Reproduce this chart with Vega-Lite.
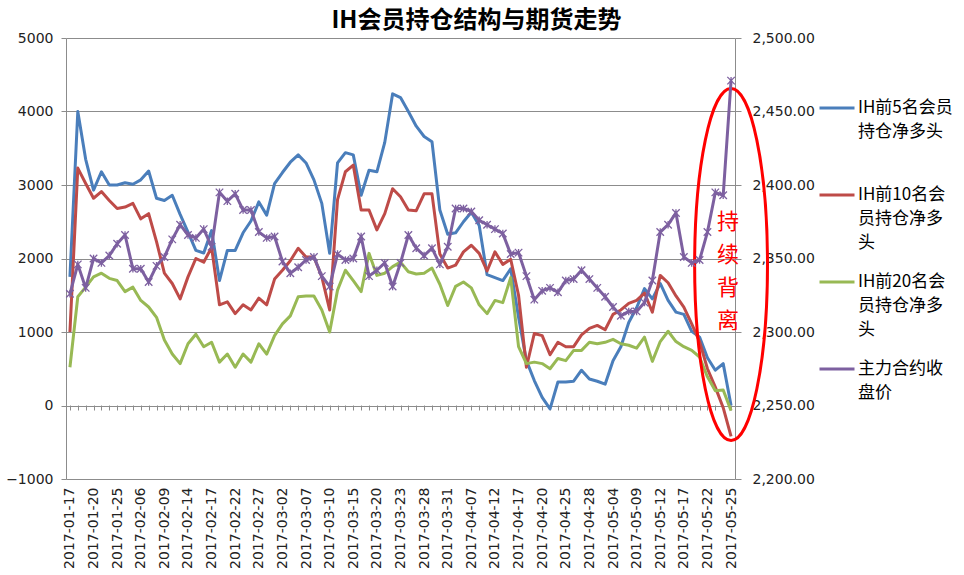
{
  "$schema": "https://vega.github.io/schema/vega-lite/v6.json",
  "width": 669,
  "height": 441,
  "autosize": {"type": "none"},
  "padding": {"left": 66, "top": 38, "right": 229, "bottom": 96},
  "background": "white",
  "title": {"text": "IH会员持仓结构与期货走势", "font": "Noto Sans CJK SC", "fontSize": 24, "fontWeight": "bold", "color": "#000", "anchor": "middle", "dx": 76, "offset": -2},
  "config": {"view": {"stroke": null}, "font": "DejaVu Sans"},
  "data": {"values": [
    {"date": "2017-01-17", "前5名": 1750, "前10名": 1000, "前20名": 520, "收盘价": 2326},
    {"date": "2017-01-18", "前5名": 4000, "前10名": 3230, "前20名": 1480, "收盘价": 2346},
    {"date": "2017-01-19", "前5名": 3350, "前10名": 3020, "前20名": 1610, "收盘价": 2330},
    {"date": "2017-01-20", "前5名": 2930, "前10名": 2820, "前20名": 1750, "收盘价": 2350},
    {"date": "2017-01-23", "前5名": 3180, "前10名": 2910, "前20名": 1800, "收盘价": 2347},
    {"date": "2017-01-24", "前5名": 3000, "前10名": 2790, "前20名": 1730, "收盘价": 2352},
    {"date": "2017-01-25", "前5名": 3000, "前10名": 2680, "前20名": 1700, "收盘价": 2360},
    {"date": "2017-01-26", "前5名": 3030, "前10名": 2700, "前20名": 1550, "收盘价": 2366},
    {"date": "2017-02-03", "前5名": 3010, "前10名": 2750, "前20名": 1610, "收盘价": 2343},
    {"date": "2017-02-06", "前5名": 3070, "前10名": 2540, "前20名": 1430, "收盘价": 2343},
    {"date": "2017-02-07", "前5名": 3190, "前10名": 2610, "前20名": 1340, "收盘价": 2334},
    {"date": "2017-02-08", "前5名": 2820, "前10名": 2230, "前20名": 1200, "收盘价": 2345},
    {"date": "2017-02-09", "前5名": 2790, "前10名": 1800, "前20名": 890, "收盘价": 2351},
    {"date": "2017-02-10", "前5名": 2860, "前10名": 1660, "前20名": 700, "收盘价": 2363},
    {"date": "2017-02-13", "前5名": 2600, "前10名": 1450, "前20名": 570, "收盘价": 2373},
    {"date": "2017-02-14", "前5名": 2360, "前10名": 1750, "前20名": 840, "收盘价": 2366},
    {"date": "2017-02-15", "前5名": 2110, "前10名": 2000, "前20名": 970, "收盘价": 2364},
    {"date": "2017-02-16", "前5名": 2075, "前10名": 1950, "前20名": 800, "收盘价": 2370},
    {"date": "2017-02-17", "前5名": 2380, "前10名": 2150, "前20名": 860, "收盘价": 2358},
    {"date": "2017-02-20", "前5名": 1700, "前10名": 1370, "前20名": 590, "收盘价": 2395},
    {"date": "2017-02-21", "前5名": 2110, "前10名": 1410, "前20名": 700, "收盘价": 2389},
    {"date": "2017-02-22", "前5名": 2110, "前10名": 1250, "前20名": 520, "收盘价": 2394},
    {"date": "2017-02-23", "前5名": 2350, "前10名": 1370, "前20名": 700, "收盘价": 2383},
    {"date": "2017-02-24", "前5名": 2510, "前10名": 1300, "前20名": 590, "收盘价": 2383},
    {"date": "2017-02-27", "前5名": 2770, "前10名": 1460, "前20名": 840, "收盘价": 2368},
    {"date": "2017-02-28", "前5名": 2590, "前10名": 1370, "前20名": 700, "收盘价": 2364},
    {"date": "2017-03-01", "前5名": 3020, "前10名": 1720, "前20名": 950, "收盘价": 2365},
    {"date": "2017-03-02", "前5名": 3170, "前10名": 1840, "前20名": 1110, "收盘价": 2348},
    {"date": "2017-03-03", "前5名": 3310, "前10名": 1970, "前20名": 1220, "收盘价": 2340},
    {"date": "2017-03-06", "前5名": 3410, "前10名": 2140, "前20名": 1480, "收盘价": 2344},
    {"date": "2017-03-07", "前5名": 3300, "前10名": 2020, "前20名": 1490, "收盘价": 2349},
    {"date": "2017-03-08", "前5名": 3070, "前10名": 2020, "前20名": 1490, "收盘价": 2351},
    {"date": "2017-03-09", "前5名": 2750, "前10名": 1750, "前20名": 1300, "收盘价": 2338},
    {"date": "2017-03-10", "前5名": 2070, "前10名": 1300, "前20名": 1000, "收盘价": 2331},
    {"date": "2017-03-13", "前5名": 3300, "前10名": 2800, "前20名": 1570, "收盘价": 2353},
    {"date": "2017-03-14", "前5名": 3440, "前10名": 3180, "前20名": 1840, "收盘价": 2349},
    {"date": "2017-03-15", "前5名": 3410, "前10名": 3270, "前20名": 1700, "收盘价": 2350},
    {"date": "2017-03-16", "前5名": 2860, "前10名": 2660, "前20名": 1550, "收盘价": 2365},
    {"date": "2017-03-17", "前5名": 3200, "前10名": 2660, "前20名": 2070, "收盘价": 2338},
    {"date": "2017-03-20", "前5名": 3180, "前10名": 2390, "前20名": 1770, "收盘价": 2342},
    {"date": "2017-03-21", "前5名": 3580, "前10名": 2610, "前20名": 1800, "收盘价": 2347},
    {"date": "2017-03-22", "前5名": 4240, "前10名": 2950, "前20名": 1890, "收盘价": 2331},
    {"date": "2017-03-23", "前5名": 4190, "前10名": 2840, "前20名": 1950, "收盘价": 2347},
    {"date": "2017-03-24", "前5名": 4000, "前10名": 2660, "前20名": 1820, "收盘价": 2366},
    {"date": "2017-03-27", "前5名": 3800, "前10名": 2650, "前20名": 1790, "收盘价": 2357},
    {"date": "2017-03-28", "前5名": 3660, "前10名": 2880, "前20名": 1800, "收盘价": 2352},
    {"date": "2017-03-29", "前5名": 3590, "前10名": 2880, "前20名": 1870, "收盘价": 2357},
    {"date": "2017-03-30", "前5名": 2660, "前10名": 2060, "前20名": 1650, "收盘价": 2346},
    {"date": "2017-03-31", "前5名": 2330, "前10名": 1870, "前20名": 1360, "收盘价": 2358},
    {"date": "2017-04-05", "前5名": 2350, "前10名": 1910, "前20名": 1620, "收盘价": 2384},
    {"date": "2017-04-06", "前5名": 2500, "前10名": 2090, "前20名": 1680, "收盘价": 2384},
    {"date": "2017-04-07", "前5名": 2630, "前10名": 2180, "前20名": 1600, "收盘价": 2382},
    {"date": "2017-04-10", "前5名": 2450, "前10名": 2070, "前20名": 1370, "收盘价": 2376},
    {"date": "2017-04-11", "前5名": 1780, "前10名": 1830, "前20名": 1250, "收盘价": 2373},
    {"date": "2017-04-12", "前5名": 1740, "前10名": 2090, "前20名": 1430, "收盘价": 2370},
    {"date": "2017-04-13", "前5名": 1700, "前10名": 1920, "前20名": 1400, "收盘价": 2367},
    {"date": "2017-04-14", "前5名": 1860, "前10名": 1990, "前20名": 1740, "收盘价": 2353},
    {"date": "2017-04-17", "前5名": 1200, "前10名": 1500, "前20名": 800, "收盘价": 2354},
    {"date": "2017-04-18", "前5名": 610, "前10名": 520, "前20名": 570, "收盘价": 2338},
    {"date": "2017-04-19", "前5名": 340, "前10名": 980, "前20名": 590, "收盘价": 2322},
    {"date": "2017-04-20", "前5名": 110, "前10名": 950, "前20名": 570, "收盘价": 2328},
    {"date": "2017-04-21", "前5名": -45, "前10名": 690, "前20名": 500, "收盘价": 2330},
    {"date": "2017-04-24", "前5名": 320, "前10名": 860, "前20名": 640, "收盘价": 2327},
    {"date": "2017-04-25", "前5名": 320, "前10名": 800, "前20名": 610, "收盘价": 2335},
    {"date": "2017-04-26", "前5名": 330, "前10名": 800, "前20名": 750, "收盘价": 2336},
    {"date": "2017-04-27", "前5名": 480, "前10名": 960, "前20名": 750, "收盘价": 2342},
    {"date": "2017-04-28", "前5名": 360, "前10名": 1050, "前20名": 860, "收盘价": 2336},
    {"date": "2017-05-02", "前5名": 330, "前10名": 1090, "前20名": 840, "收盘价": 2330},
    {"date": "2017-05-03", "前5名": 290, "前10名": 1030, "前20名": 860, "收盘价": 2324},
    {"date": "2017-05-04", "前5名": 610, "前10名": 1240, "前20名": 900, "收盘价": 2317},
    {"date": "2017-05-05", "前5名": 800, "前10名": 1300, "前20名": 840, "收盘价": 2311},
    {"date": "2017-05-08", "前5名": 1130, "前10名": 1390, "前20名": 820, "收盘价": 2314},
    {"date": "2017-05-09", "前5名": 1330, "前10名": 1430, "前20名": 780, "收盘价": 2314},
    {"date": "2017-05-10", "前5名": 1590, "前10名": 1530, "前20名": 930, "收盘价": 2320},
    {"date": "2017-05-11", "前5名": 1450, "前10名": 1270, "前20名": 600, "收盘价": 2335},
    {"date": "2017-05-12", "前5名": 1660, "前10名": 1770, "前20名": 870, "收盘价": 2368},
    {"date": "2017-05-15", "前5名": 1430, "前10名": 1670, "前20名": 1010, "收盘价": 2373},
    {"date": "2017-05-16", "前5名": 1270, "前10名": 1490, "前20名": 870, "收盘价": 2381},
    {"date": "2017-05-17", "前5名": 1240, "前10名": 1340, "前20名": 800, "收盘价": 2351},
    {"date": "2017-05-18", "前5名": 1010, "前10名": 1110, "前20名": 750, "收盘价": 2347},
    {"date": "2017-05-19", "前5名": 930, "前10名": 870, "前20名": 660, "收盘价": 2349},
    {"date": "2017-05-22", "前5名": 650, "前10名": 500, "前20名": 390, "收盘价": 2368},
    {"date": "2017-05-23", "前5名": 480, "前10名": 250, "前20名": 200, "收盘价": 2395},
    {"date": "2017-05-24", "前5名": 570, "前10名": -30, "前20名": 210, "收盘价": 2393},
    {"date": "2017-05-25", "前5名": 0, "前10名": -420, "前20名": -70, "收盘价": 2471}
  ]},
  "layer": [
    {
      "layer": [
        {
          "transform": [{"fold": ["前5名", "前10名", "前20名"], "as": ["series", "val"]}],
          "mark": {"type": "line", "strokeWidth": 3, "strokeJoin": "round"},
          "encoding": {
            "x": {"field": "date", "type": "ordinal", "sort": "ascending", "scale": {"type": "point", "padding": 0.5},
              "axis": {"orient": "bottom", "title": null, "values": ["2017-01-17","2017-01-20","2017-01-25","2017-02-06","2017-02-09","2017-02-14","2017-02-17","2017-02-22","2017-02-27","2017-03-02","2017-03-07","2017-03-10","2017-03-15","2017-03-20","2017-03-23","2017-03-28","2017-03-31","2017-04-07","2017-04-12","2017-04-17","2017-04-20","2017-04-25","2017-04-28","2017-05-04","2017-05-09","2017-05-12","2017-05-17","2017-05-22","2017-05-25"],
                "labelAngle": 270, "ticks": false, "domain": false, "grid": false, "labelPadding": 8, "labelFont": "DejaVu Sans", "labelFontSize": 14, "labelColor": "#222", "labelOverlap": false}},
            "y": {"field": "val", "type": "quantitative", "scale": {"domain": [-1000, 5000], "nice": false, "zero": false},
              "axis": {"orient": "left", "title": null, "values": [-1000, 0, 1000, 2000, 3000, 4000, 5000], "format": "d", "grid": true, "gridColor": "#8c8c8c", "gridWidth": 1, "domainColor": "#8c8c8c", "tickColor": "#8c8c8c", "tickSize": 5, "labelPadding": 8, "labelFont": "DejaVu Sans", "labelFontSize": 14, "labelColor": "#222"}},
            "color": {"field": "series", "type": "nominal",
              "scale": {"domain": ["前5名", "前10名", "前20名", "收盘价"], "range": ["#4a7ebb", "#be4b48", "#98b954", "#7d60a0"]},
              "legend": {"orient": "none", "legendX": 752, "legendY": 51, "title": null, "symbolType": "stroke", "symbolSize": 1225, "symbolStrokeWidth": 3, "labelFont": "Noto Sans CJK SC", "labelFontSize": 17, "labelColor": "#000", "labelOffset": 2, "labelLimit": 200, "rowPadding": 12, "gridAlign": "all", "labelBaseline": "middle",
                "labelExpr": "datum.label == '前5名' ? ['IH前5名会员', '持仓净多头'] : datum.label == '前10名' ? ['IH前10名会', '员持仓净多', '头'] : datum.label == '前20名' ? ['IH前20名会', '员持仓净多', '头'] : ['主力合约收', '盘价']",
                "encode": {"labels": {"update": {"lineHeight": {"value": 24}}}}}}
          }
        },
        {
          "data": {"values": [{"date": "2017-05-25", "val": 1918}]},
          "mark": {"type": "point", "shape": "M-0.207,0A0.207,1 0 1,0 0.207,0A0.207,1 0 1,0 -0.207,0Z", "filled": false, "size": 123904, "stroke": "#ff0000", "strokeWidth": 3, "opacity": 1},
          "encoding": {
            "x": {"field": "date", "type": "ordinal"},
            "y": {"field": "val", "type": "quantitative"}
          }
        },
        {
          "data": {"values": [{"date": "2017-05-25", "val": 2490, "label": "持\n续\n背\n离"}]},
          "mark": {"type": "text", "color": "#ff0000", "font": "Noto Sans CJK SC", "fontSize": 22, "lineHeight": 33, "lineBreak": "\n", "dx": -3, "baseline": "middle", "align": "center"},
          "encoding": {
            "x": {"field": "date", "type": "ordinal"},
            "y": {"field": "val", "type": "quantitative"},
            "text": {"field": "label"}
          }
        }
      ]
    },
    {
      "transform": [{"fold": ["收盘价"], "as": ["series", "val"]}],
      "encoding": {
        "x": {"field": "date", "type": "ordinal", "axis": {"orient": "top", "offset": -367, "labels": false, "domain": false, "grid": false, "ticks": true, "tickSize": -5, "tickColor": "#8c8c8c", "title": null}},
        "y": {"field": "val", "type": "quantitative", "scale": {"domain": [2200, 2500], "nice": false, "zero": false},
          "axis": {"orient": "right", "title": null, "values": [2200, 2250, 2300, 2350, 2400, 2450, 2500], "format": ",.2f", "grid": false, "domainColor": "#8c8c8c", "tickColor": "#8c8c8c", "tickSize": 6, "labelPadding": 11, "labelFont": "DejaVu Sans", "labelFontSize": 14, "labelColor": "#222"}},
        "color": {"field": "series", "type": "nominal"}
      },
      "layer": [
        {"mark": {"type": "line", "strokeWidth": 3, "strokeJoin": "round"}},
        {"mark": {"type": "point", "shape": "M-1,-1L1,1M-1,1L1,-1M0,-1L0,1", "filled": false, "size": 56, "strokeWidth": 1.3, "opacity": 1}}
      ]
    }
  ],
  "resolve": {"scale": {"y": "independent"}, "axis": {"x": "independent"}}
}
